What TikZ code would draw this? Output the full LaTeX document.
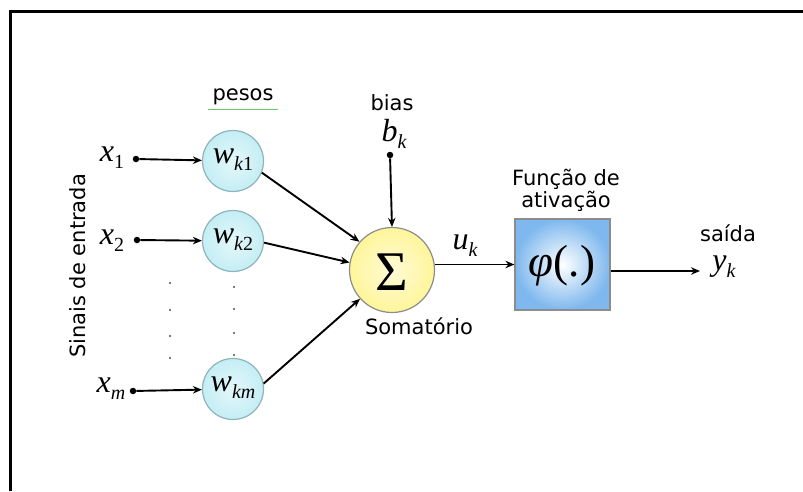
\documentclass[tikz,border=0pt]{standalone}
\usepackage{fontspec}
\setmainfont{Liberation Serif}
\setsansfont{DejaVu Sans}
\usetikzlibrary{arrows.meta}
\definecolor{wfill}{HTML}{C4EEF4}
\definecolor{wedge}{HTML}{8FB5BA}
\definecolor{sfill}{HTML}{FFF59A}
\definecolor{bfill}{HTML}{7EB8EE}
\definecolor{squig}{HTML}{6CC86C}
\newcommand{\sbs}[1]{\raisebox{-7pt}{\fontsize{20}{20}\selectfont #1}}
\tikzset{
  lbl/.style={font=\sffamily\fontsize{21}{24}\selectfont, inner sep=0pt},
  mth/.style={font=\fontsize{32}{34}\selectfont\itshape, inner sep=0pt},
  wnode/.style={circle, minimum size=61pt, inner sep=0pt, draw=wedge, line width=1.2pt,
     inner color=wfill!45, outer color=wfill},
  arr/.style={line width=1.9pt, -{Stealth[length=9pt,width=7.5pt]}},
  dotc/.style={circle, fill=black, inner sep=0pt, minimum size=6.5pt},
  smalldot/.style={circle, fill=black!70, inner sep=0pt, minimum size=2.4pt}
}
\begin{document}
\begin{tikzpicture}[x=1pt,y=-1pt]
\useasboundingbox (0,0) rectangle (803,491);
% frame
\draw[line width=3pt] (10,491) -- (10,11) -- (803,11);
% labels
\node[lbl] (pesos) at (243,97) {pesos};
\draw[squig, line width=0.9pt] (208,109) -- (278,109);
\node[lbl, rotate=90] (sinais) at (78,266) {Sinais de entrada};
\node[lbl] (bias) at (392,103) {bias};
\node[lbl] (soma) at (419,326) {Somatório};
\node[lbl, align=center] (func) at (566,190) {Função de\\[-2pt]ativação};
\node[lbl] (saida) at (728,233) {saída};
% inputs
\node[mth] (x1) at (112,158) {x\sbs{\upshape 1}};
\node[mth] (x2) at (112,241) {x\sbs{\upshape 2}};
\node[mth] (xm) at (111,389) {x\sbs{m}};
\node[dotc] (d1) at (136,159) {};
\node[dotc] (d2) at (137,240) {};
\node[dotc] (dm) at (133,391) {};
% weights
\node[wnode] (w1) at (233,161) {};
\node[wnode] (w2) at (233,241) {};
\node[wnode] (wm) at (233,389) {};
\node[mth] (w1t) at (233,160) {w\sbs{k\upshape 1}};
\node[mth] (w2t) at (233,240) {w\sbs{k\upshape 2}};
\node[mth] (wmt) at (233,388) {w\sbs{km}};
% dots
\foreach \yy [count=\i] in {283,310,336,358} {\node[smalldot] (da\i) at (170,\yy) {};}
\foreach \yy [count=\i] in {287,309,333,355} {\node[smalldot] (db\i) at (234,\yy) {};}
% summation
\node[circle, minimum size=85pt, inner sep=0pt, draw=black!45, line width=1.2pt,
      inner color=sfill!40, outer color=sfill] (sig) at (392,270) {};
\node[font=\fontsize{56}{58}\selectfont, inner sep=0pt] (sigt) at (392,272) {Σ};
% bias
\node[mth] (bk) at (394,134) {b\sbs{k}};
\node[dotc] (db) at (390,155) {};
% activation box
\node[rectangle, minimum width=95pt, minimum height=91pt, inner sep=0pt, draw=black!45,
      line width=1.2pt, inner color=white, outer color=bfill] (box) at (562.5,264.5) {};
\node[font=\fontsize{45}{47}\selectfont, inner sep=0pt] (phi) at (562,266) {\itshape φ\upshape(.)};
\node[mth] (uk) at (465,246) {u\sbs{k}};
\node[mth] (yk) at (724,267) {y\sbs{k}};
\coordinate (outend) at (700,271);
% connectors
\draw[arr] (d1) -- (w1);
\draw[arr] (d2) -- (w2);
\draw[arr] (dm) -- (wm);
\draw[arr] (w1.-22) -- (sig.139);
\draw[arr] (w2.-3) -- (sig.170);
\draw[arr] (wm.10) -- (sig.222);
\draw[arr] (db) -- (sig.north);
\draw[arr] (sig.east |- box.west) -- (box.west);
\draw[arr] (box.east |- outend) -- (outend);
\end{tikzpicture}
\end{document}
